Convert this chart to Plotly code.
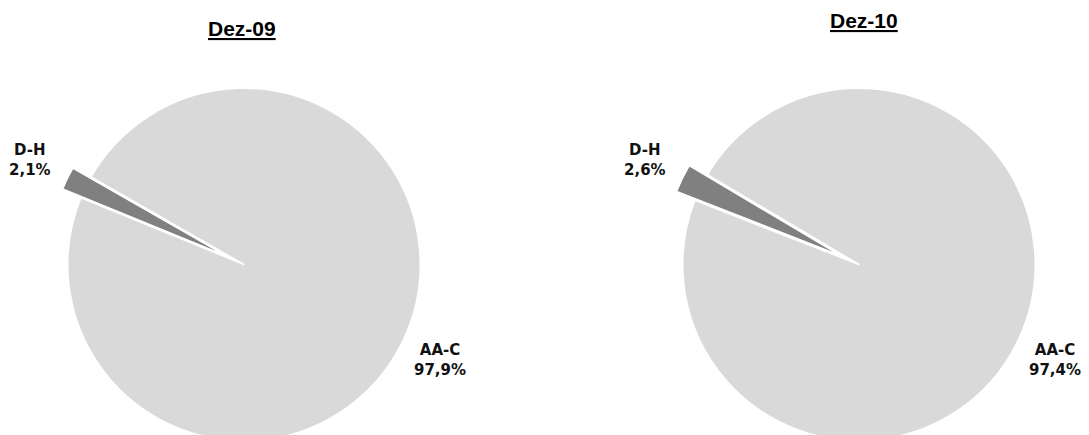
import math
import plotly.graph_objects as go

# ---- data ----
categories = ["AA-C", "D-H"]
dez09 = [97.9, 2.1]
dez10 = [97.4, 2.6]
titles = ["Dez-09", "Dez-10"]
pct_labels_09 = ["97,9%", "2,1%"]
pct_labels_10 = ["97,4%", "2,6%"]

colors = ["#D9D9D9", "#808080"]
pulls = [0, 0.115]

W, H = 1089, 461
T, B = 68, 0
PH = H - T - B  # plot-area height (px)
BOX = PH  # square pie box side
centers_px = [244, 859]
title_x_px = [242, 864]
title_py = [28.5, 20.5]
DH_MID_DEG = 154.0  # math angle (ccw from +x) of D-H slice centre

fig = go.Figure()
annotations = []

for k, (vals, pl, cx) in enumerate(
    zip([dez09, dez10], [pct_labels_09, pct_labels_10], centers_px)
):
    total = sum(vals)
    theta_dh = vals[1] / total * 360.0
    cw_mid = 90.0 - DH_MID_DEG
    rotation = cw_mid + theta_dh / 2.0
    x0 = (cx - BOX / 2) / W
    x1 = (cx + BOX / 2) / W
    fig.add_trace(
        go.Pie(
            labels=categories,
            values=vals,
            sort=False,
            direction="clockwise",
            rotation=rotation,
            pull=pulls,
            marker=dict(colors=colors, line=dict(color="white", width=1.5)),
            textinfo="none",
            hoverinfo="label+percent",
            showlegend=False,
            domain=dict(x=[x0, x1], y=[0, 1]),
        )
    )
    r = BOX / (2 + 2 * max(pulls))
    cy = T + PH / 2
    start = rotation
    for i, v in enumerate(vals):
        th = v / total * 360.0
        mid_cw = start + th / 2.0
        start += th
        rad = math.radians(mid_cw)
        dist = r * 1.235 + pulls[i] * r
        px = cx + dist * math.sin(rad)
        py = cy - dist * math.cos(rad)
        annotations.append(
            dict(
                x=px / W,
                y=(H - B - py) / PH,
                xref="paper",
                yref="paper",
                text=f"<b>{categories[i]}<br>{pl[i]}</b>",
                showarrow=False,
                xanchor="center",
                yanchor="middle",
                align="center",
                font=dict(family="DejaVu Sans", size=15, color="#111111"),
            )
        )

for title, tx, tpy in zip(titles, title_x_px, title_py):
    annotations.append(
        dict(
            x=tx / W,
            y=(H - B - tpy) / PH,
            xref="paper",
            yref="paper",
            text=f"<b><u>{title}</u></b>",
            showarrow=False,
            xanchor="center",
            yanchor="middle",
            font=dict(family="Liberation Sans, Arial", size=21, color="black"),
        )
    )

fig.update_layout(
    width=W,
    height=H,
    margin=dict(l=0, r=0, t=T, b=B),
    paper_bgcolor="white",
    plot_bgcolor="white",
    annotations=annotations,
)

fig.write_html(
    "out.html",
    post_script="document.body.style.margin='0';document.body.style.overflow='hidden';",
)
